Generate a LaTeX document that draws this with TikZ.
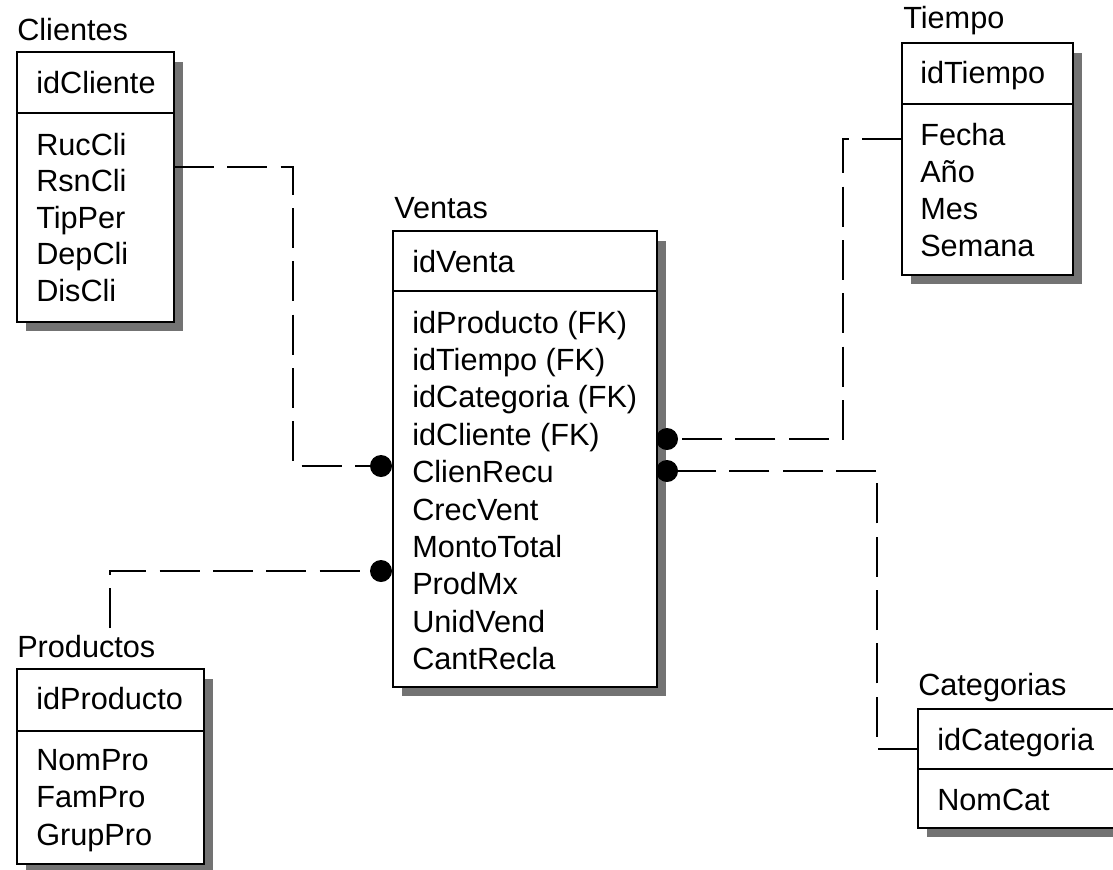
\documentclass[tikz,border=0pt]{standalone}
\usepackage{fontspec}
\setmainfont{Liberation Sans}
\begin{document}
\begin{tikzpicture}[x=0.75pt,y=-0.75pt,
  ebox/.style={draw=black, line width=1.6pt, fill=white, inner sep=0pt, outer sep=0pt},
  shadowc/.style={fill=black!55},
  divl/.style={line width=1.5pt},
  rel/.style={line width=1.4pt, dash pattern=on 30pt off 10pt},
  reldot/.style={circle, fill=black, minimum size=16.5pt, inner sep=0pt},
  txt/.style={font=\fontsize{23}{28}\selectfont, inner sep=0pt, anchor=base west}]
\useasboundingbox (0,0) rectangle (1113,869);
\clip (0,0) rectangle (1113,869);
\fill[white] (0,0) rectangle (1113,869);
\newcommand\erent[6]{%
  \fill[shadowc] (#2+9,#3+10) rectangle (#4+9,#5+9);
  \node[ebox, minimum width={(#4-#2)*0.75pt}, minimum height={(#5-#3)*0.75pt}] (#1) at ({(#2+#4)/2},{(#3+#5)/2}) {};
  \draw[divl] (#2,#6) -- (#4,#6);
}
% entities
\erent{cli}{17}{52}{174}{322}{113}
\erent{ven}{393}{231}{657}{687}{291}
\erent{tie}{902}{43}{1073}{275}{104}
\erent{pro}{17}{669}{204}{864}{731}
\erent{cat}{918}{709}{1125}{828}{769}
% Clientes
\node[txt] (cli-t) at (17,40) {Clientes};
\node[txt] (cli-k) at (36,93) {idCliente};
\foreach \t [count=\i from 0] in {RucCli,RsnCli,TipPer,DepCli,DisCli}
  \node[txt] (cli-\i) at (36,155+\i*36.5) {\t};
% Ventas
\node[txt] (ven-t) at (394,218) {Ventas};
\node[txt] (ven-k) at (412,272) {idVenta};
\foreach \t [count=\i from 0] in {idProducto (FK),idTiempo (FK),idCategoria (FK),idCliente (FK),ClienRecu,CrecVent,MontoTotal,ProdMx,UnidVend,CantRecla}
  \node[txt] (ven-\i) at (412,333+\i*37.4) {\t};
% Tiempo
\node[txt] (tie-t) at (903,28) {Tiempo};
\node[txt] (tie-k) at (920,83) {idTiempo};
\foreach \t [count=\i from 0] in {Fecha,Año,Mes,Semana}
  \node[txt] (tie-\i) at (920,145+\i*37.3) {\t};
% Productos
\node[txt] (pro-t) at (17,657) {Productos};
\node[txt] (pro-k) at (36,709) {idProducto};
\foreach \t [count=\i from 0] in {NomPro,FamPro,GrupPro}
  \node[txt] (pro-\i) at (36,770+\i*37.5) {\t};
% Categorias
\node[txt] (cat-t) at (918,695) {Categorias};
\node[txt] (cat-k) at (937,750) {idCategoria};
\node[txt] (cat-0) at (937,810) {NomCat};
% relationship dots
\node[reldot] (dcr) at (381,466) {};
\node[reldot] (dpm) at (381,571) {};
\node[reldot] (dcl) at (667,439) {};
\node[reldot] (dca) at (667,471) {};
% connectors
\coordinate (k1) at (293,167);
\draw[rel] (cli.east |- k1) -- (k1) |- (dcr);
\coordinate (k2s) at (110,628);
\draw[rel] (k2s) |- (dpm);
\coordinate (k3) at (843,139);
\draw[rel] (tie.west |- k3) -- (k3) |- (dcl);
\coordinate (k4) at (877,749);
\draw[rel] (cat.west |- k4) -- (k4) |- (dca);
\end{tikzpicture}
\end{document}
